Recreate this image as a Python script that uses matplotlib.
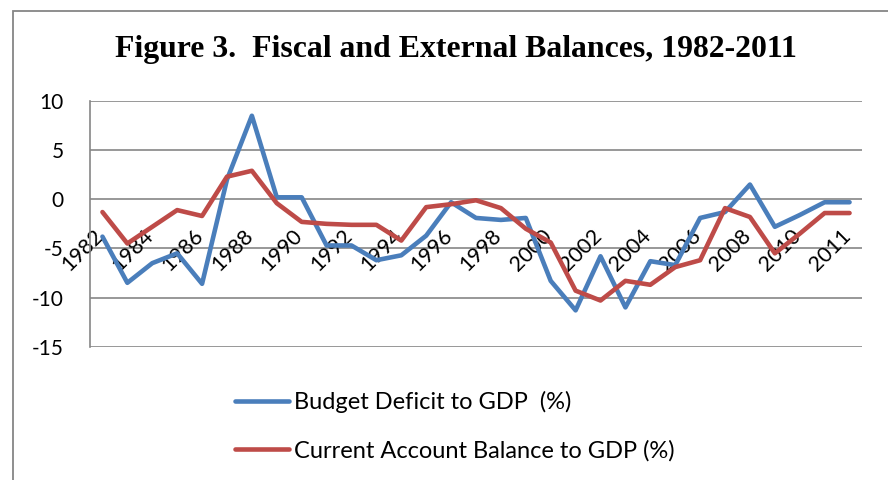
import matplotlib
matplotlib.use("Agg")
import matplotlib.pyplot as plt
from matplotlib.patches import Rectangle

# categories as they appear on the axis (last year appears twice in the source)
years = ["1982", "1983", "1984", "1985", "1986", "1987", "1988", "1989", "1990",
         "1991", "1992", "1993", "1994", "1995", "1996", "1997", "1998", "1999",
         "2000", "2001", "2002", "2003", "2004", "2005", "2006", "2007", "2008",
         "2009", "2010", "2011", "2011"]

budget_deficit = [-3.8, -8.5, -6.5, -5.5, -8.6, 2.0, 8.5, 0.2, 0.2, -4.7,
                  -4.7, -6.2, -5.7, -3.7, -0.3, -1.9, -2.1, -1.9, -8.3, -11.3,
                  -5.8, -11.0, -6.3, -6.7, -1.9, -1.3, 1.5, -2.8, -1.6, -0.3, -0.3]

current_account = [-1.3, -4.5, -2.8, -1.1, -1.7, 2.3, 2.9, -0.4, -2.3, -2.5,
                   -2.6, -2.6, -4.2, -0.8, -0.5, -0.1, -0.9, -3.0, -4.4, -9.3,
                   -10.3, -8.3, -8.7, -6.9, -6.2, -0.9, -1.8, -5.5, -3.5, -1.4, -1.4]

y_ticks = [10, 5, 0, -5, -10, -15]

BLUE = "#4A7EBB"
RED = "#BE4B48"
GRID = "#868686"


def main():
    fig = plt.figure(figsize=(8.88, 4.80), dpi=100)
    W, H = 888, 480
    ax = fig.add_axes([90 / W, 1 - 346.7 / H, (862 - 90) / W, (346.7 - 101) / H])

    # chart border (cut by the image on the right and bottom)
    fig.add_artist(Rectangle((12.5 / W, -0.2), 1.2, 1.2 - 10.7 / H,
                             transform=fig.transFigure, fill=False,
                             edgecolor=GRID, linewidth=1.3, clip_on=False))

    x = list(range(len(years)))
    l1, = ax.plot(x, budget_deficit, color=BLUE, linewidth=3.3,
                  solid_joinstyle="round", solid_capstyle="round", zorder=3)
    l2, = ax.plot(x, current_account, color=RED, linewidth=3.3,
                  solid_joinstyle="round", solid_capstyle="round", zorder=3)

    ax.set_xlim(-0.5, len(years) - 0.5)
    ax.set_ylim(-15, 10)
    ax.set_yticks(y_ticks)
    ax.set_yticklabels([str(v) for v in y_ticks], fontfamily="Lato", fontsize=15)
    ax.tick_params(axis="y", length=0, pad=19)
    ax.set_xticks([])
    ax.grid(axis="y", color=GRID, linewidth=1.2)
    ax.set_axisbelow(True)
    for side in ["top", "right", "bottom"]:
        ax.spines[side].set_visible(False)
    ax.spines["left"].set_color(GRID)
    ax.spines["left"].set_linewidth(1.2)

    # category labels every other point, sitting next to the zero line
    for i in range(0, len(years), 2):
        ax.annotate(years[i], xy=(i, 0), xytext=(3.5, -19), textcoords="offset points",
                    rotation=45, ha="right", va="top", fontfamily="Lato",
                    fontsize=15.5, zorder=2)

    fig.text(456 / W, 1 - 50 / H, "Figure 3.  Fiscal and External Balances, 1982-2011",
             ha="center", va="center", fontfamily="Liberation Serif",
             fontweight="bold", fontsize=22.9)

    fig.legend([l1, l2], ["Budget Deficit to GDP  (%)", "Current Account Balance to GDP (%)"],
               loc="upper left", bbox_to_anchor=(235 / W, 1 - 391 / H),
               frameon=False, borderpad=0, borderaxespad=0,
               handlelength=2.3, handletextpad=0.2, labelspacing=1.15,
               prop={"family": "Lato", "size": 17})

    fig.savefig("out.png", dpi=100)


if __name__ == "__main__":
    main()
